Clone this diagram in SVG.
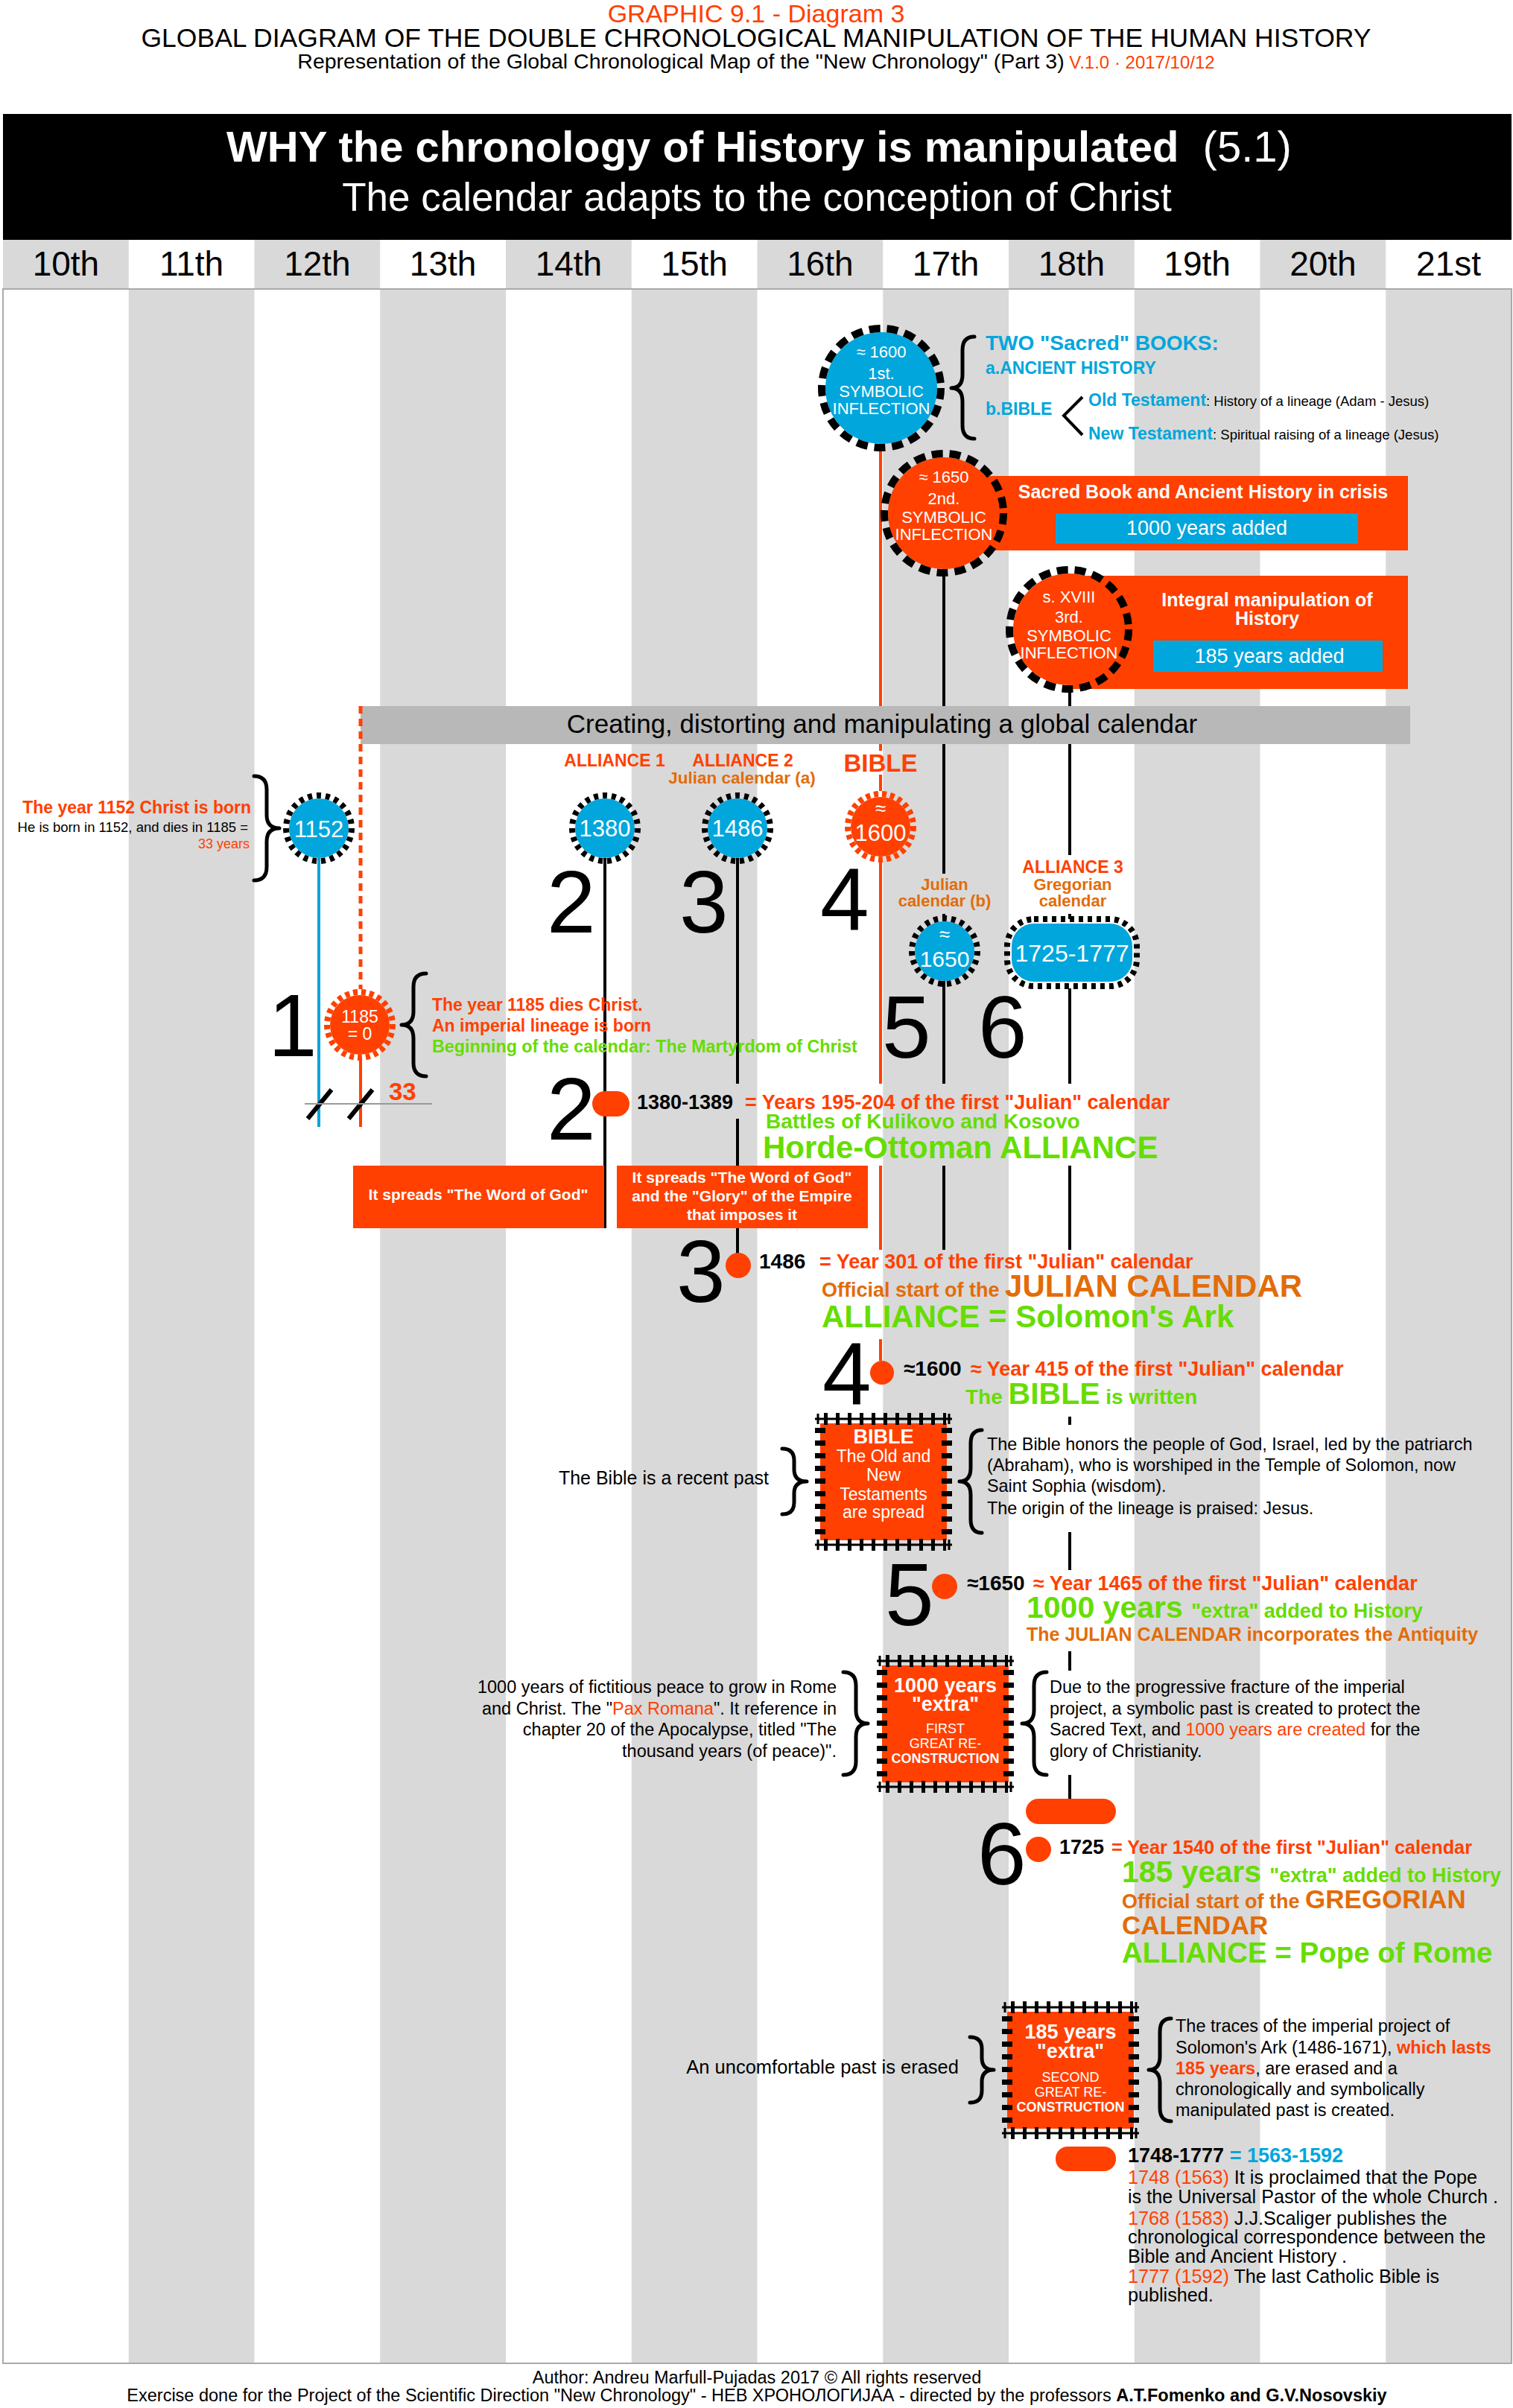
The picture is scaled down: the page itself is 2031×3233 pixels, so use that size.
<svg xmlns="http://www.w3.org/2000/svg" width="2031" height="3233" viewBox="0 0 2031 3233">
<defs>
<style>
text{font-family:"Liberation Sans",Arial,Helvetica,sans-serif;fill:#000}
.b{font-weight:bold}
.n{font-weight:normal}
.w{fill:#fff}
.o{fill:#ff4000}
.g{fill:#66dd00}
.br{fill:#e36c09}
.bl{fill:#00a6dc}
.k{fill:#000}
.m{text-anchor:middle}
.e{text-anchor:end}
.ln{stroke:#000;stroke-width:4;fill:none}
.lo{stroke:#ff4000;stroke-width:4;fill:none}
.brace{stroke:#000;stroke-width:5;fill:none;stroke-linecap:round;stroke-linejoin:round}
.ring{fill:none;stroke:#000;stroke-width:8;stroke-dasharray:6 6}
.ringbig{fill:none;stroke:#000;stroke-width:10;stroke-dasharray:15 9}
.gear{fill:none;stroke:#ff4000;stroke-width:8;stroke-dasharray:6 5}
.sg{fill:#d9d9d9}
.fo{fill:#ff4000}
.fb{fill:#00a6dc}
.big{font-size:118px}
</style>
<g id="chip">
<rect x="7" y="14" width="170" height="157" fill="#ff4000"/>
<line x1="7" y1="20" x2="7" y2="168" stroke="#000" stroke-width="14" stroke-dasharray="7 10"/>
<line x1="177" y1="20" x2="177" y2="168" stroke="#000" stroke-width="14" stroke-dasharray="7 10"/>
<line x1="12" y1="8" x2="176" y2="8" stroke="#000" stroke-width="16" stroke-dasharray="5 11"/>
<line x1="12" y1="177" x2="176" y2="177" stroke="#000" stroke-width="16" stroke-dasharray="5 11"/>
<path d="M0 8H184M0 177H184M4 1V15M180 1V15M4 170V184M180 170V184" stroke="#000" stroke-width="3" fill="none"/>
</g>
</defs>

<rect width="2031" height="3233" fill="#fff"/>

<g id="header">
<text x="1015" y="30" class="m o" font-size="34">GRAPHIC 9.1 - Diagram 3</text>
<text x="1015" y="63" class="m" font-size="35.5">GLOBAL DIAGRAM OF THE DOUBLE CHRONOLOGICAL MANIPULATION OF THE HUMAN HISTORY</text>
<text x="1015" y="92" class="m" font-size="28.5">Representation of the Global Chronological Map of the "New Chronology" (Part 3)<tspan class="o" font-size="24">  V.1.0 · 2017/10/12</tspan></text>
<rect x="4" y="153" width="2025" height="169" fill="#000"/>
<text x="1019" y="217" class="m b w" font-size="58">WHY the chronology of History is manipulated<tspan class="n">&#160; (5.1)</tspan></text>
<text x="1016" y="283" class="m w" font-size="53">The calendar adapts to the conception of Christ</text>
</g>

<g id="grid">
<rect class="sg" x="4" y="322" width="168.75" height="65"/>
<rect class="sg" x="341.5" y="322" width="168.75" height="65"/>
<rect class="sg" x="679" y="322" width="168.75" height="65"/>
<rect class="sg" x="1016.5" y="322" width="168.75" height="65"/>
<rect class="sg" x="1354" y="322" width="168.75" height="65"/>
<rect class="sg" x="1691.5" y="322" width="168.75" height="65"/>
<rect class="sg" x="172.75" y="388" width="168.75" height="2785"/>
<rect class="sg" x="510.25" y="388" width="168.75" height="2785"/>
<rect class="sg" x="847.75" y="388" width="168.75" height="2785"/>
<rect class="sg" x="1185.25" y="388" width="168.75" height="2785"/>
<rect class="sg" x="1522.75" y="388" width="168.75" height="2785"/>
<rect class="sg" x="1860.25" y="388" width="168.75" height="2785"/>
<rect x="4" y="388" width="2025" height="2785" fill="none" stroke="#aaa" stroke-width="2"/>
<g font-size="46" class="m">
<text x="88.4" y="370">10th</text>
<text x="257.1" y="370">11th</text>
<text x="425.9" y="370">12th</text>
<text x="594.6" y="370">13th</text>
<text x="763.4" y="370">14th</text>
<text x="932.1" y="370">15th</text>
<text x="1100.9" y="370">16th</text>
<text x="1269.6" y="370">17th</text>
<text x="1438.4" y="370">18th</text>
<text x="1607.1" y="370">19th</text>
<text x="1775.9" y="370">20th</text>
<text x="1944.6" y="370">21st</text>
</g>
</g>

<g id="band">
<rect x="484" y="948" width="1409" height="51" fill="#b8b8b8"/>
<text x="1184" y="984" class="m" font-size="35">Creating, distorting and manipulating a global calendar</text>
</g>

<g id="connectors">
<path d="M428 1152V1513" stroke="#00a6dc" stroke-width="4"/>
<path d="M484 948V1328" stroke="#ff4000" stroke-width="5" stroke-dasharray="10 7"/>
<path class="lo" d="M484 1424V1513"/>
<path class="ln" d="M812 1152V1649"/>
<path class="ln" d="M990 1152V1455M990 1502V1565M990 1648V1683"/>
<path class="lo" d="M1182 598V948M1182 999V1008M1182 1040V1062M1182 1158V1455M1182 1565V1678M1182 1798V1827"/>
<path class="ln" d="M1267 764V948M1267 999V1173M1267 1227V1237M1267 1317V1455M1267 1565V1678"/>
<path class="ln" d="M1436 930V948M1436 999V1148M1436 1227V1234M1436 1327V1455M1436 1565V1678M1436 1902V1913M1436 2057V2108M1436 2217V2243M1436 2383V2415"/>
<path d="M413 1502L445 1463M468 1502L500 1463" stroke="#000" stroke-width="6"/>
<path d="M409 1482H580" stroke="#999" stroke-width="2"/>
</g>

<g id="inflection-1">
<circle cx="1183" cy="521" r="75" class="fb"/>
<circle cx="1183" cy="521" r="80" class="ringbig"/>
<g class="m w" font-size="22">
<text x="1183" y="480" class="w">≈ 1600</text>
<text x="1183" y="509" class="w">1st.</text>
<text x="1183" y="533" class="w">SYMBOLIC</text>
<text x="1183" y="556" class="w">INFLECTION</text>
</g>
</g>

<g id="two-books">
<path class="brace" d="M1308 452Q1292 452 1292 470L1292 503Q1292 521 1277 521Q1292 521 1292 539L1292 571Q1292 589 1308 589"/>
<text x="1323" y="470" class="b bl" font-size="28">TWO "Sacred" BOOKS:</text>
<text x="1323" y="502" class="b bl" font-size="23">a.ANCIENT HISTORY</text>
<text x="1323" y="557" class="b bl" font-size="23">b.BIBLE</text>
<polyline points="1453,533 1428,558 1453,584" fill="none" stroke="#000" stroke-width="4"/>
<text x="1461" y="545" class="b bl" font-size="23">Old Testament<tspan class="n k" font-size="18.5">: History of a lineage (Adam - Jesus)</tspan></text>
<text x="1461" y="590" class="b bl" font-size="23">New Testament<tspan class="n k" font-size="18.5">: Spiritual raising of a lineage (Jesus)</tspan></text>
</g>

<g id="inflection-2">
<rect x="1300" y="639" width="590" height="100" class="fo"/>
<rect x="1417" y="689" width="406" height="41" class="fb"/>
<text x="1615" y="669" class="m b w" font-size="25">Sacred Book and Ancient History in crisis</text>
<text x="1620" y="718" class="m w" font-size="27">1000 years added</text>
<circle cx="1267" cy="689" r="75" class="fo"/>
<circle cx="1267" cy="689" r="80" class="ringbig"/>
<g class="m" font-size="22">
<text x="1267" y="648" class="w">≈ 1650</text>
<text x="1267" y="677" class="w">2nd.</text>
<text x="1267" y="702" class="w">SYMBOLIC</text>
<text x="1267" y="725" class="w">INFLECTION</text>
</g>
</g>

<g id="inflection-3">
<rect x="1440" y="773" width="450" height="152" class="fo"/>
<rect x="1548" y="860" width="308" height="42" class="fb"/>
<text x="1701" y="814" class="m b w" font-size="25">Integral manipulation of</text>
<text x="1701" y="839" class="m b w" font-size="25">History</text>
<text x="1704" y="890" class="m w" font-size="27">185 years added</text>
<circle cx="1435" cy="845" r="75" class="fo"/>
<circle cx="1435" cy="845" r="80" class="ringbig"/>
<g class="m" font-size="22">
<text x="1435" y="809" class="w">s. XVIII</text>
<text x="1435" y="836" class="w">3rd.</text>
<text x="1435" y="861" class="w">SYMBOLIC</text>
<text x="1435" y="884" class="w">INFLECTION</text>
</g>
</g>

<g id="labels-alliances">
<text x="825" y="1029" class="m b o" font-size="23">ALLIANCE 1</text>
<text x="997" y="1029" class="m b o" font-size="23">ALLIANCE 2</text>
<text x="996" y="1052" class="m b br" font-size="22.5">Julian calendar (a)</text>
<text x="1182" y="1036" class="m b o" font-size="33">BIBLE</text>
<text x="1268" y="1195" class="m b br" font-size="22">Julian</text>
<text x="1268" y="1217" class="m b br" font-size="22">calendar (b)</text>
<text x="1440" y="1172" class="m b o" font-size="23">ALLIANCE 3</text>
<text x="1440" y="1195" class="m b br" font-size="22">Gregorian</text>
<text x="1440" y="1217" class="m b br" font-size="22">calendar</text>
</g>

<g id="node-1152">
<circle cx="428" cy="1112" r="40" class="fb"/>
<circle cx="428" cy="1112" r="44" class="ring"/>
<text x="428" y="1124" class="m w" font-size="31">1152</text>
<path class="brace" d="M341 1042Q358 1042 358 1060L358 1094Q358 1112 375 1112Q358 1112 358 1130L358 1164Q358 1182 341 1182"/>
<text x="337" y="1092" class="e b o" font-size="23">The year 1152 Christ is born</text>
<text x="333" y="1117" class="e" font-size="18.5">He is born in 1152, and dies in 1185 =</text>
<text x="335" y="1139" class="e o" font-size="18">33 years</text>
</g>

<g id="node-1380">
<circle cx="812" cy="1112" r="40" class="fb"/>
<circle cx="812" cy="1112" r="44" class="ring"/>
<text x="812" y="1123" class="m w" font-size="31">1380</text>
</g>

<g id="node-1486">
<circle cx="990" cy="1112" r="40" class="fb"/>
<circle cx="990" cy="1112" r="44" class="ring"/>
<text x="990" y="1123" class="m w" font-size="31">1486</text>
</g>

<g id="node-1600">
<circle cx="1182" cy="1110" r="40" class="fo"/>
<circle cx="1182" cy="1110" r="44" class="gear"/>
<text x="1182" y="1094" class="m w" font-size="26">≈</text>
<text x="1182" y="1129" class="m w" font-size="31">1600</text>
</g>

<g id="node-1650">
<circle cx="1268" cy="1277" r="40" class="fb"/>
<circle cx="1268" cy="1277" r="44" class="ring"/>
<text x="1268" y="1263" class="m w" font-size="26">≈</text>
<text x="1268" y="1298" class="m w" font-size="30">1650</text>
</g>

<g id="node-1725-1777">
<rect x="1358" y="1240" width="162" height="78" rx="30" class="fb"/>
<rect x="1352" y="1234" width="174" height="90" rx="36" class="ring"/>
<text x="1439" y="1291" class="m w" font-size="32">1725-1777</text>
</g>

<g id="node-1185">
<circle cx="483" cy="1376" r="40" class="fo"/>
<circle cx="483" cy="1376" r="44" class="gear"/>
<text x="483" y="1373" class="m w" font-size="23">1185</text>
<text x="483" y="1396" class="m w" font-size="23">= 0</text>
<path class="brace" d="M572 1307Q555 1307 555 1325L555 1358Q555 1376 539 1376Q555 1376 555 1394L555 1427Q555 1445 572 1445"/>
<text x="580" y="1357" class="b o" font-size="23">The year 1185 dies Christ.</text>
<text x="580" y="1385" class="b o" font-size="23">An imperial lineage is born</text>
<text x="580" y="1413" class="b g" font-size="23.3">Beginning of the calendar: The Martyrdom of Christ</text>
<text x="522" y="1477" class="b o" font-size="33">33</text>
</g>

<g id="numbers">
<text x="734" y="1252" class="big">2</text>
<text x="912" y="1252" class="big">3</text>
<text x="1101" y="1249" class="big">4</text>
<text x="1184" y="1420" class="big">5</text>
<text x="1313" y="1420" class="big">6</text>
<text x="360" y="1418" class="big">1</text>
</g>

<g id="event-2">
<text x="734" y="1530" class="big">2</text>
<rect x="795" y="1465" width="50" height="34" rx="17" class="fo"/>
<text x="855" y="1489" class="b" font-size="27">1380-1389</text>
<text x="1000" y="1489" class="b o" font-size="27">= Years 195-204 of the first "Julian" calendar</text>
<text x="1028" y="1515" class="b g" font-size="28">Battles of Kulikovo and Kosovo</text>
<text x="1024" y="1555" class="b g" font-size="42">Horde-Ottoman ALLIANCE</text>
<rect x="474" y="1565" width="337" height="84" class="fo"/>
<text x="642" y="1611" class="m b w" font-size="21">It spreads "The Word of God"</text>
<rect x="828" y="1565" width="337" height="84" class="fo"/>
<text x="996" y="1588" class="m b w" font-size="21">It spreads "The Word of God"</text>
<text x="996" y="1613" class="m b w" font-size="21">and the "Glory" of the Empire</text>
<text x="996" y="1638" class="m b w" font-size="21">that imposes it</text>
</g>

<g id="event-3">
<text x="908" y="1748" class="big">3</text>
<circle cx="991" cy="1699" r="17" class="fo"/>
<text x="1019" y="1703" class="b" font-size="28">1486</text>
<text x="1100" y="1703" class="b o" font-size="27">= Year 301 of the first "Julian" calendar</text>
<text x="1103" y="1741" class="b br" font-size="27">Official start of the <tspan font-size="42">JULIAN CALENDAR</tspan></text>
<text x="1103" y="1782" class="b g" font-size="42">ALLIANCE = Solomon's Ark</text>
</g>

<g id="event-4">
<text x="1104" y="1886" class="big">4</text>
<circle cx="1184" cy="1843" r="16" class="fo"/>
<text x="1213" y="1847" class="b" font-size="28">≈1600</text>
<text x="1303" y="1847" class="b o" font-size="27">≈ Year 415 of the first "Julian" calendar</text>
<text x="1296" y="1885" class="b g" font-size="28">The <tspan font-size="41">BIBLE</tspan> is written</text>
</g>

<g id="bible-box">
<use href="#chip" x="1094" y="1897"/>
<text x="1186" y="1938" class="m b w" font-size="27">BIBLE</text>
<text x="1186" y="1963" class="m w" font-size="23">The Old and</text>
<text x="1186" y="1988" class="m w" font-size="23">New</text>
<text x="1186" y="2014" class="m w" font-size="23">Testaments</text>
<text x="1186" y="2038" class="m w" font-size="23">are spread</text>
<path class="brace" d="M1050 1945Q1066 1945 1066 1961L1066 1973Q1066 1989 1083 1989Q1066 1989 1066 2005L1066 2017Q1066 2033 1050 2033"/>
<text x="1032" y="1993" class="e" font-size="25">The Bible is a recent past</text>
<path class="brace" d="M1318 1920Q1303 1920 1303 1938L1303 1971Q1303 1989 1288 1989Q1303 1989 1303 2007L1303 2040Q1303 2058 1318 2058"/>
<g font-size="23.4">
<text x="1325" y="1947">The Bible honors the people of God, Israel, led by the patriarch</text>
<text x="1325" y="1975">(Abraham), who is worshiped in the Temple of Solomon, now</text>
<text x="1325" y="2003">Saint Sophia (wisdom).</text>
<text x="1325" y="2033">The origin of the lineage is praised: Jesus.</text>
</g>
</g>

<g id="event-5">
<text x="1188" y="2182" class="big">5</text>
<circle cx="1268" cy="2130" r="17" class="fo"/>
<text x="1298" y="2135" class="b" font-size="28">≈1650</text>
<text x="1387" y="2135" class="b o" font-size="27">≈ Year 1465 of the first "Julian" calendar</text>
<text x="1378" y="2172" class="b g" font-size="41">1000 years <tspan font-size="27">"extra" added to History</tspan></text>
<text x="1378" y="2203" class="b br" font-size="25">The JULIAN CALENDAR incorporates the Antiquity</text>
</g>

<g id="box-1000-years">
<use href="#chip" x="1177" y="2222"/>
<text x="1269" y="2272" class="m b w" font-size="27">1000 years</text>
<text x="1269" y="2297" class="m b w" font-size="27">"extra"</text>
<text x="1269" y="2327" class="m w" font-size="18">FIRST</text>
<text x="1269" y="2347" class="m w" font-size="18">GREAT RE-</text>
<text x="1269" y="2367" class="m b w" font-size="18">CONSTRUCTION</text>
<path class="brace" d="M1132 2245Q1149 2245 1149 2263L1149 2296Q1149 2314 1165 2314Q1149 2314 1149 2332L1149 2365Q1149 2383 1132 2383"/>
<g font-size="23.5" class="e">
<text x="1123" y="2273">1000 years of fictitious peace to grow in Rome</text>
<text x="1123" y="2302">and Christ. The "<tspan class="o">Pax Romana</tspan>". It reference in</text>
<text x="1123" y="2330">chapter 20 of the Apocalypse, titled "The</text>
<text x="1123" y="2359">thousand years (of peace)".</text>
</g>
<path class="brace" d="M1405 2245Q1388 2245 1388 2263L1388 2296Q1388 2314 1372 2314Q1388 2314 1388 2332L1388 2365Q1388 2383 1405 2383"/>
<g font-size="23.5">
<text x="1409" y="2273">Due to the progressive fracture of the imperial</text>
<text x="1409" y="2302">project, a symbolic past is created to protect the</text>
<text x="1409" y="2330">Sacred Text, and <tspan class="o">1000 years are created</tspan> for the</text>
<text x="1409" y="2359">glory of Christianity.</text>
</g>
</g>

<g id="event-6">
<rect x="1377" y="2415" width="121" height="34" rx="17" class="fo"/>
<text x="1312" y="2530" class="big">6</text>
<circle cx="1394" cy="2483" r="17" class="fo"/>
<text x="1422" y="2489" class="b" font-size="27">1725</text>
<text x="1492" y="2489" class="b o" font-size="25.3">= Year 1540 of the first "Julian" calendar</text>
<text x="1506" y="2527" class="b g" font-size="41">185 years <tspan font-size="27">"extra" added to History</tspan></text>
<text x="1506" y="2562" class="b br" font-size="27">Official start of the <tspan font-size="35">GREGORIAN</tspan></text>
<text x="1506" y="2597" class="b br" font-size="35">CALENDAR</text>
<text x="1506" y="2635" class="b g" font-size="38.5">ALLIANCE = Pope of Rome</text>
</g>

<g id="box-185-years">
<use href="#chip" x="1345" y="2687"/>
<text x="1437" y="2737" class="m b w" font-size="27">185 years</text>
<text x="1437" y="2763" class="m b w" font-size="27">"extra"</text>
<text x="1437" y="2795" class="m w" font-size="18">SECOND</text>
<text x="1437" y="2815" class="m w" font-size="18">GREAT RE-</text>
<text x="1437" y="2835" class="m b w" font-size="18">CONSTRUCTION</text>
<path class="brace" d="M1302 2735Q1318 2735 1318 2751L1318 2763Q1318 2779 1334 2779Q1318 2779 1318 2795L1318 2807Q1318 2823 1302 2823"/>
<text x="1287" y="2784" class="e" font-size="25.5">An uncomfortable past is erased</text>
<path class="brace" d="M1572 2710Q1557 2710 1557 2728L1557 2761Q1557 2779 1542 2779Q1557 2779 1557 2797L1557 2830Q1557 2848 1572 2848"/>
<g font-size="23.5">
<text x="1578" y="2728">The traces of the imperial project of</text>
<text x="1578" y="2757">Solomon's Ark (1486-1671), <tspan class="b o">which lasts</tspan></text>
<text x="1578" y="2785"><tspan class="b o">185 years</tspan>, are erased and a</text>
<text x="1578" y="2813">chronologically and symbolically</text>
<text x="1578" y="2841">manipulated past is created.</text>
</g>
</g>

<g id="event-1748-1777">
<rect x="1417" y="2882" width="81" height="33" rx="16" class="fo"/>
<text x="1514" y="2903" class="b" font-size="27">1748-1777<tspan class="bl"> = 1563-1592</tspan></text>
<g font-size="25.2">
<text x="1514" y="2932"><tspan class="o">1748 (1563)</tspan> It is proclaimed that the Pope</text>
<text x="1514" y="2958">is the Universal Pastor of the whole Church .</text>
<text x="1514" y="2987"><tspan class="o">1768 (1583)</tspan> J.J.Scaliger publishes the</text>
<text x="1514" y="3012">chronological correspondence between the</text>
<text x="1514" y="3038">Bible and Ancient History .</text>
<text x="1514" y="3065"><tspan class="o">1777 (1592)</tspan> The last Catholic Bible is</text>
<text x="1514" y="3090">published.</text>
</g>
</g>

<g id="footer">
<text x="1016" y="3200" class="m" font-size="23.5">Author: Andreu Marfull-Pujadas 2017 © All rights reserved</text>
<text x="1016" y="3224" class="m" font-size="23.5">Exercise done for the Project of the Scientific Direction "New Chronology" - НЕВ ХРОНОЛОГИЈАА - directed by the professors <tspan class="b">A.T.Fomenko and G.V.Nosovskiy</tspan></text>
</g>
</svg>
